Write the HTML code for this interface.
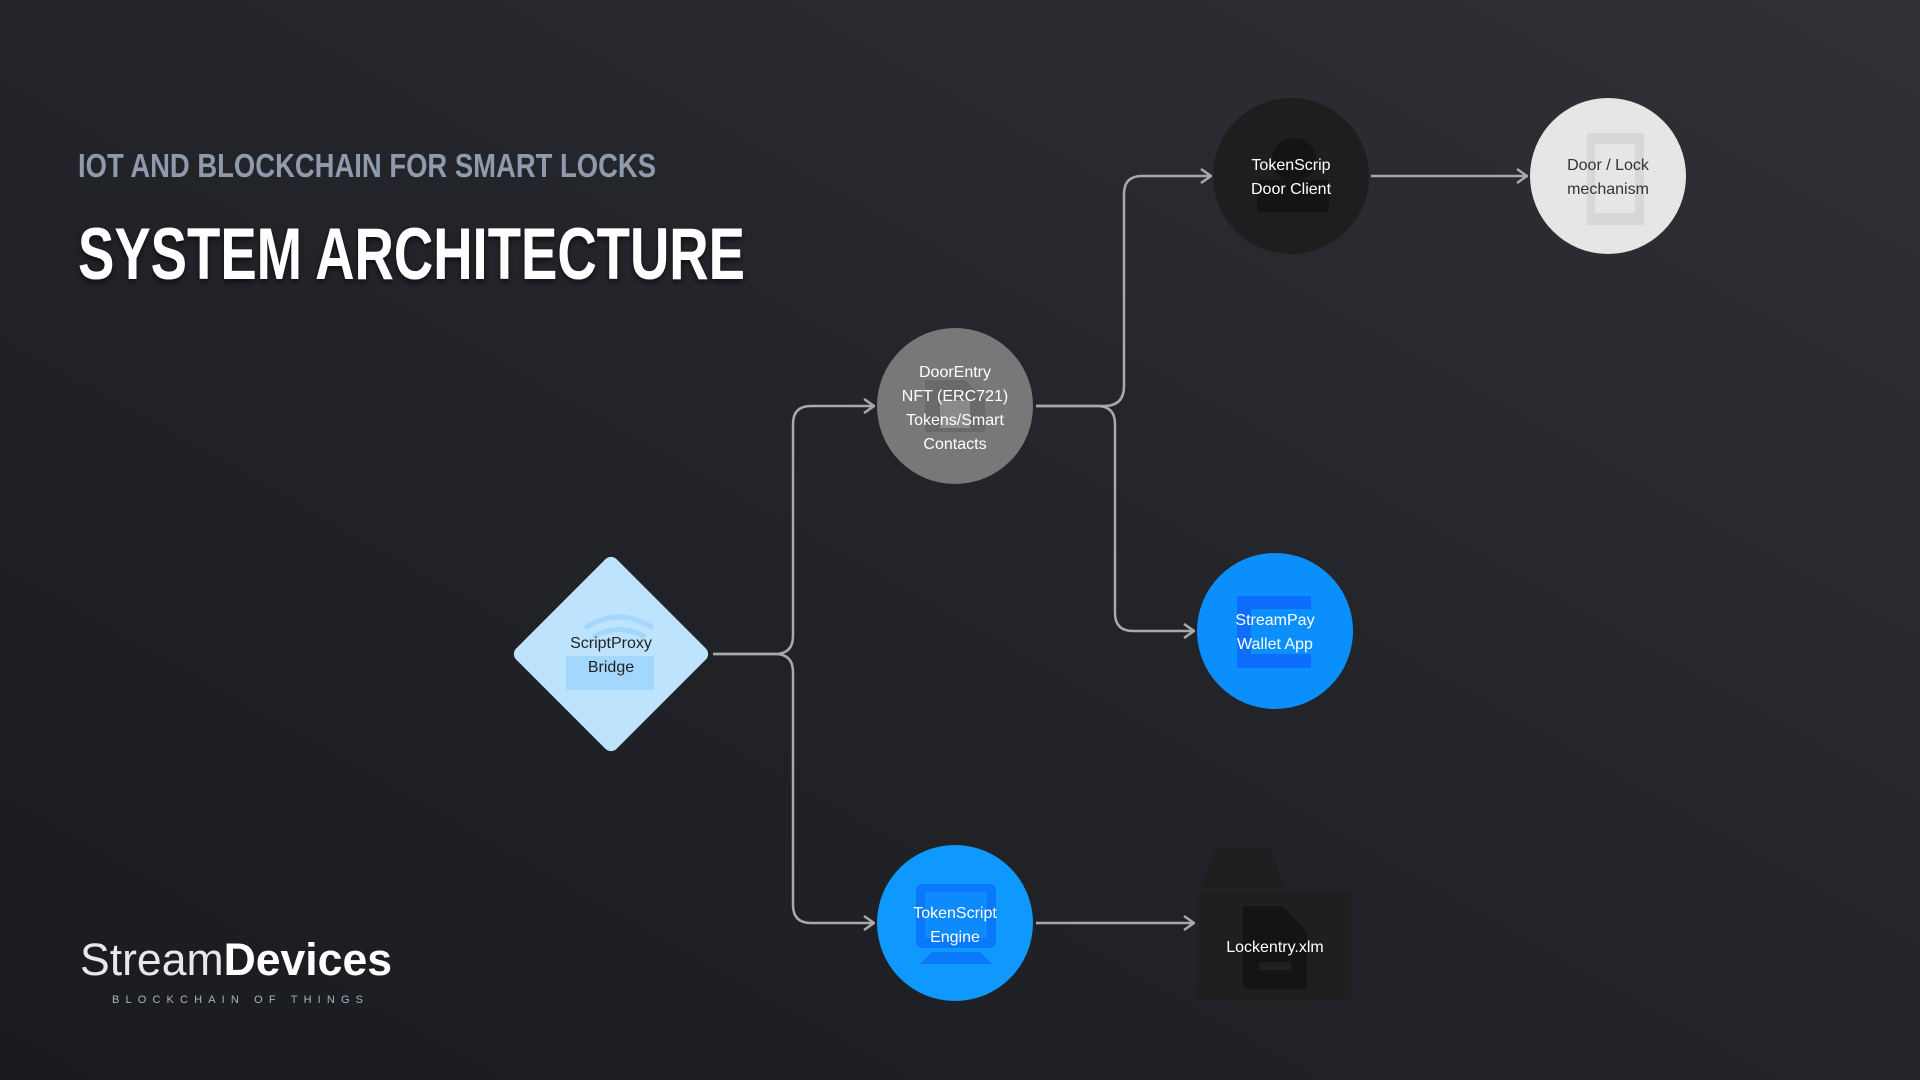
<!DOCTYPE html>
<html><head><meta charset="utf-8"><style>
html,body{margin:0;padding:0;width:1920px;height:1080px;overflow:hidden;background:#1f2024}
svg{display:block}
</style></head><body>
<svg width="1920" height="1080" viewBox="0 0 1920 1080" xmlns="http://www.w3.org/2000/svg">
<defs>
<linearGradient id="bg" x1="0" y1="1" x2="1" y2="0">
<stop offset="0" stop-color="#1a1b1f"/>
<stop offset="0.55" stop-color="#23252a"/>
<stop offset="1" stop-color="#303237"/>
</linearGradient>
<filter id="sh" x="-5%" y="-20%" width="110%" height="150%"><feDropShadow dx="0" dy="3" stdDeviation="3" flood-color="#000" flood-opacity="0.6"/></filter>
<marker id="ar" viewBox="0 0 12 16" refX="11" refY="8" markerWidth="12" markerHeight="16" markerUnits="userSpaceOnUse" orient="auto">
<path d="M1 1 L11 8 L1 15" fill="none" stroke="#a9a9a9" stroke-width="2.5"/>
</marker>
</defs>
<rect width="1920" height="1080" fill="url(#bg)"/>

<text x="78" y="177" font-family="Liberation Sans Narrow, Liberation Sans, sans-serif" font-weight="bold" font-size="33" fill="#8f9bad" textLength="578" lengthAdjust="spacingAndGlyphs">IOT AND BLOCKCHAIN FOR SMART LOCKS</text>
<text x="78" y="279" font-family="Liberation Sans Narrow, Liberation Sans, sans-serif" font-weight="bold" font-size="73" fill="#ffffff" filter="url(#sh)" textLength="667" lengthAdjust="spacingAndGlyphs">SYSTEM ARCHITECTURE</text>

<text x="80" y="975" font-family="Liberation Sans, sans-serif" font-size="45" fill="#e8e8e8" textLength="312" lengthAdjust="spacingAndGlyphs"><tspan font-weight="normal">Stream</tspan><tspan font-weight="bold" fill="#ffffff">Devices</tspan></text>
<text x="112" y="1003" font-family="Liberation Sans, sans-serif" font-size="11" fill="#aab3c2" textLength="251" lengthAdjust="spacing">BLOCKCHAIN OF THINGS</text>

<g fill="none" stroke="#a9a9a9" stroke-width="2.5">
<path d="M713 654 H775 Q793 654 793 636 V424 Q793 406 811 406 H874" marker-end="url(#ar)"/>
<path d="M713 654 H775 Q793 654 793 672 V905 Q793 923 811 923 H874" marker-end="url(#ar)"/>
<path d="M1036 406 H1104 Q1124 406 1124 386 V194 Q1124 176 1142 176 H1211" marker-end="url(#ar)"/>
<path d="M1036 406 H1097 Q1115 406 1115 424 V613 Q1115 631 1133 631 H1194" marker-end="url(#ar)"/>
<path d="M1371 176 H1527" marker-end="url(#ar)"/>
<path d="M1036 923 H1194" marker-end="url(#ar)"/>
</g>

<!-- Diamond -->
<rect x="540" y="583" width="142" height="142" rx="8" fill="#bde3fd" transform="rotate(45 611 654)"/>
<path d="M595 628 Q629 606 663 628" fill="none" stroke="#a3d7fd" stroke-width="5" transform="translate(-10,0)"/>
<path d="M603 637 Q629 622 655 637" fill="none" stroke="#a3d7fd" stroke-width="5" transform="translate(-10,0)"/>
<rect x="566" y="656" width="88" height="34" fill="#a3d7fd"/>
<text font-family="Liberation Sans, sans-serif" font-size="16" fill="#222" text-anchor="middle"><tspan x="611" y="648">ScriptProxy</tspan><tspan x="611" y="672">Bridge</tspan></text>

<!-- DoorEntry -->
<circle cx="955" cy="406" r="78" fill="#787878"/>
<path d="M925 380 H965 L985 400 V432 H925 Z" fill="#6a6a6a"/>
<rect x="940" y="400" width="30" height="28" fill="#8a8a8a"/>
<text font-family="Liberation Sans, sans-serif" font-size="16" fill="#fff" text-anchor="middle"><tspan x="955" y="377">DoorEntry</tspan><tspan x="955" y="401">NFT (ERC721)</tspan><tspan x="955" y="425">Tokens/Smart</tspan><tspan x="955" y="449">Contacts</tspan></text>

<!-- TokenScrip Door Client -->
<circle cx="1291" cy="176" r="78" fill="#1e1e1e"/>
<circle cx="1294" cy="160" r="22" fill="#141414"/>
<rect x="1257" y="180" width="72" height="32" rx="4" fill="#141414"/>
<text font-family="Liberation Sans, sans-serif" font-size="16" fill="#fff" text-anchor="middle"><tspan x="1291" y="170">TokenScrip</tspan><tspan x="1291" y="194">Door Client</tspan></text>

<!-- Door / Lock -->
<circle cx="1608" cy="176" r="78" fill="#e6e6e6"/>
<rect x="1587" y="133" width="57" height="92" fill="#d7d7d7"/>
<rect x="1595" y="144" width="40" height="69" fill="#e6e6e6"/>
<text font-family="Liberation Sans, sans-serif" font-size="16" fill="#333" text-anchor="middle"><tspan x="1608" y="170">Door / Lock</tspan><tspan x="1608" y="194">mechanism</tspan></text>

<!-- StreamPay -->
<circle cx="1275" cy="631" r="78" fill="#0b8ffd"/>
<path d="M1237 596 H1311 V609 H1251 V654 H1311 V668 H1237 Z" fill="#0d6efd"/>
<text font-family="Liberation Sans, sans-serif" font-size="16" fill="#fff" text-anchor="middle"><tspan x="1275" y="625">StreamPay</tspan><tspan x="1275" y="649">Wallet App</tspan></text>

<!-- TokenScript Engine -->
<circle cx="955" cy="923" r="78" fill="#0f98fd"/>
<rect x="916" y="884" width="80" height="64" rx="6" fill="#0a78fa"/>
<rect x="925" y="892" width="62" height="46" fill="#0d8afc"/>
<path d="M920 964 L932 952 H980 L992 964 Z" fill="#0a78fa"/>
<text font-family="Liberation Sans, sans-serif" font-size="16" fill="#fff" text-anchor="middle"><tspan x="955" y="918">TokenScript</tspan><tspan x="955" y="942">Engine</tspan></text>

<!-- Lockentry folder -->
<path d="M1201 888 L1216 848 H1270 L1285 888 Z" fill="#1e1e1f"/>
<rect x="1199" y="891" width="152" height="109" rx="3" fill="#1f1f20"/>
<path d="M1243 906 H1282 L1307 932 V985 Q1307 989 1303 989 H1247 Q1243 989 1243 985 Z" fill="#141414"/>
<rect x="1259" y="962" width="32" height="8" fill="#1f1f20"/>
<text x="1275" y="952" font-family="Liberation Sans, sans-serif" font-size="16" fill="#fff" text-anchor="middle">Lockentry.xlm</text>
</svg>
</body></html>
